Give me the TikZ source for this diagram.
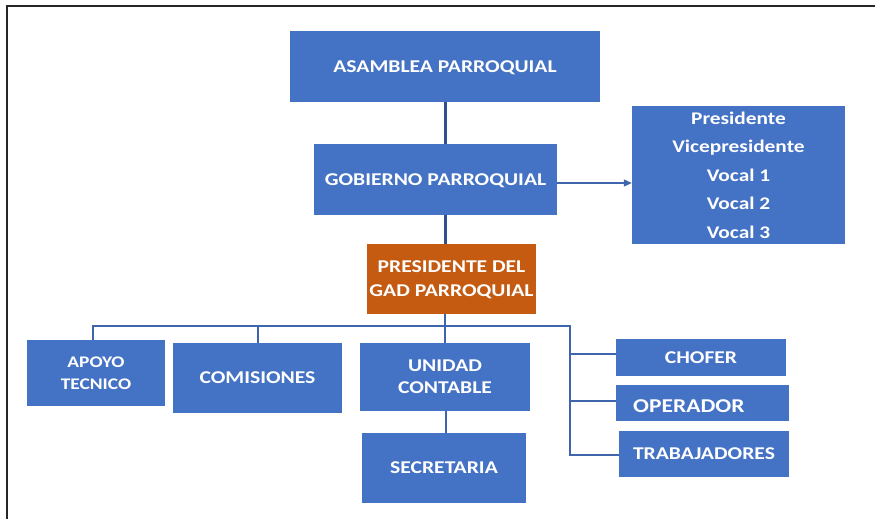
\documentclass[tikz,border=0pt]{standalone}
\usepackage{fontspec}
\setmainfont[FakeStretch=1.2]{Carlito}
\usetikzlibrary{arrows.meta}
\definecolor{boxblue}{HTML}{4472C4}
\definecolor{boxorange}{HTML}{C55A11}
\definecolor{lineblue}{HTML}{3F65AD}
\definecolor{darkline}{HTML}{2F4F8F}
\tikzset{
  box/.style={draw=none, fill=boxblue, text=white, font=\fontsize{18}{22}\selectfont\bfseries, align=center, inner sep=0pt, text depth=0pt},
  conn/.style={draw=lineblue, line width=2pt},
  trunk/.style={draw=darkline, line width=3pt},
}
\begin{document}
\begin{tikzpicture}[x=1pt,y=-1pt]
\useasboundingbox (0,0) rectangle (875,519);
\draw[line width=1.4pt, black!85] (7,519) -- (7,6) -- (875,6);
% boxes
\node[box, minimum width=310pt, minimum height=71pt] (asam) at (445,66.5) {ASAMBLEA PARROQUIAL};
\node[box, minimum width=243pt, minimum height=71pt] (gob) at (435.5,179.5) {GOBIERNO PARROQUIAL};
\node[box, minimum width=213pt, minimum height=138pt, text depth=, font=\fontsize{17.8}{28.5}\selectfont\bfseries] (mem) at (738.5,175) {Presidente\\Vicepresidente\\Vocal 1\\Vocal 2\\Vocal 3};
\node[box, fill=boxorange, minimum width=169pt, minimum height=70pt, text depth=-4pt, font=\fontsize{18}{24}\selectfont\bfseries] (pres) at (451.5,279) {PRESIDENTE DEL\\GAD PARROQUIAL};
\node[box, minimum width=138pt, minimum height=66pt, text depth=, font=\fontsize{16.2}{22}\selectfont\bfseries] (apoyo) at (96,373) {APOYO\\TECNICO};
\node[box, minimum width=169pt, minimum height=70pt] (com) at (257.5,378) {COMISIONES};
\node[box, minimum width=170pt, minimum height=68pt, font=\fontsize{18}{22}\selectfont\bfseries] (uni) at (445,377) {UNIDAD\\CONTABLE};
\node[box, minimum width=164pt, minimum height=70pt] (sec) at (444,468) {SECRETARIA};
\node[box, minimum width=170pt, minimum height=37pt] (cho) at (701,357.5) {CHOFER};
\node[box, minimum width=173pt, minimum height=36pt] (ope) at (702.5,403) {};
\node[anchor=west, text=white, font=\fontsize{19.6}{22}\selectfont\bfseries, inner sep=0pt] (opet) at (633,406) {OPERADOR};
\node[box, minimum width=170pt, minimum height=46pt] (tra) at (704,454) {TRABAJADORES};
% connectors
\coordinate (bl) at (93,326);
\coordinate (br) at (570,326);
\coordinate (bt) at (570,455);
\draw[trunk] (asam.south -| 445,0) -- (gob.north -| 445,0);
\draw[trunk] (gob.south -| 445,0) -- (pres.north -| 445,0);
\draw[draw=lineblue, line width=1.2pt, -{Triangle[length=8pt,width=7pt]}] (gob.east |- 0,183) -- (mem.west |- 0,183);
\draw[conn] (pres.south -| 445,0) -- (uni.north -| 445,0);
\draw[conn] (apoyo.north -| bl) -- (bl) -- (br) -- (bt) -- (tra.west |- bt);
\draw[conn] (com.north -| 258,0) -- (258,326);
\draw[conn] (570,354) -- (cho.west |- 0,354);
\draw[conn] (570,401) -- (ope.west |- 0,401);
\draw[conn] (uni.south -| 446,0) -- (sec.north -| 446,0);
\end{tikzpicture}
\end{document}
